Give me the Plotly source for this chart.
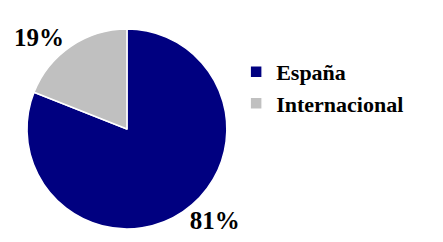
import plotly.graph_objects as go

labels = ["España", "Internacional"]
values = [81, 19]
colors = ["#000080", "#C0C0C0"]

fig = go.Figure(go.Pie(
    labels=labels,
    values=values,
    sort=False,
    direction="clockwise",
    rotation=0,
    marker=dict(colors=colors, line=dict(color="white", width=1.5)),
    texttemplate="%{percent:.0%}",
    textposition="outside",
    textfont=dict(family="Liberation Serif", size=25, color="black", weight="bold"),
    domain=dict(x=[0.043, 0.494], y=[0.087, 0.913]),
    showlegend=True,
))

fig.update_layout(
    width=443, height=242,
    margin=dict(l=0, r=0, t=0, b=0),
    paper_bgcolor="white",
    plot_bgcolor="white",
    legend=dict(
        x=0.515, y=0.67, xanchor="left", yanchor="middle",
        font=dict(family="Liberation Serif", size=22, color="black", weight="bold"),
        itemwidth=30,
    ),
)

fig.write_html("out.html")
